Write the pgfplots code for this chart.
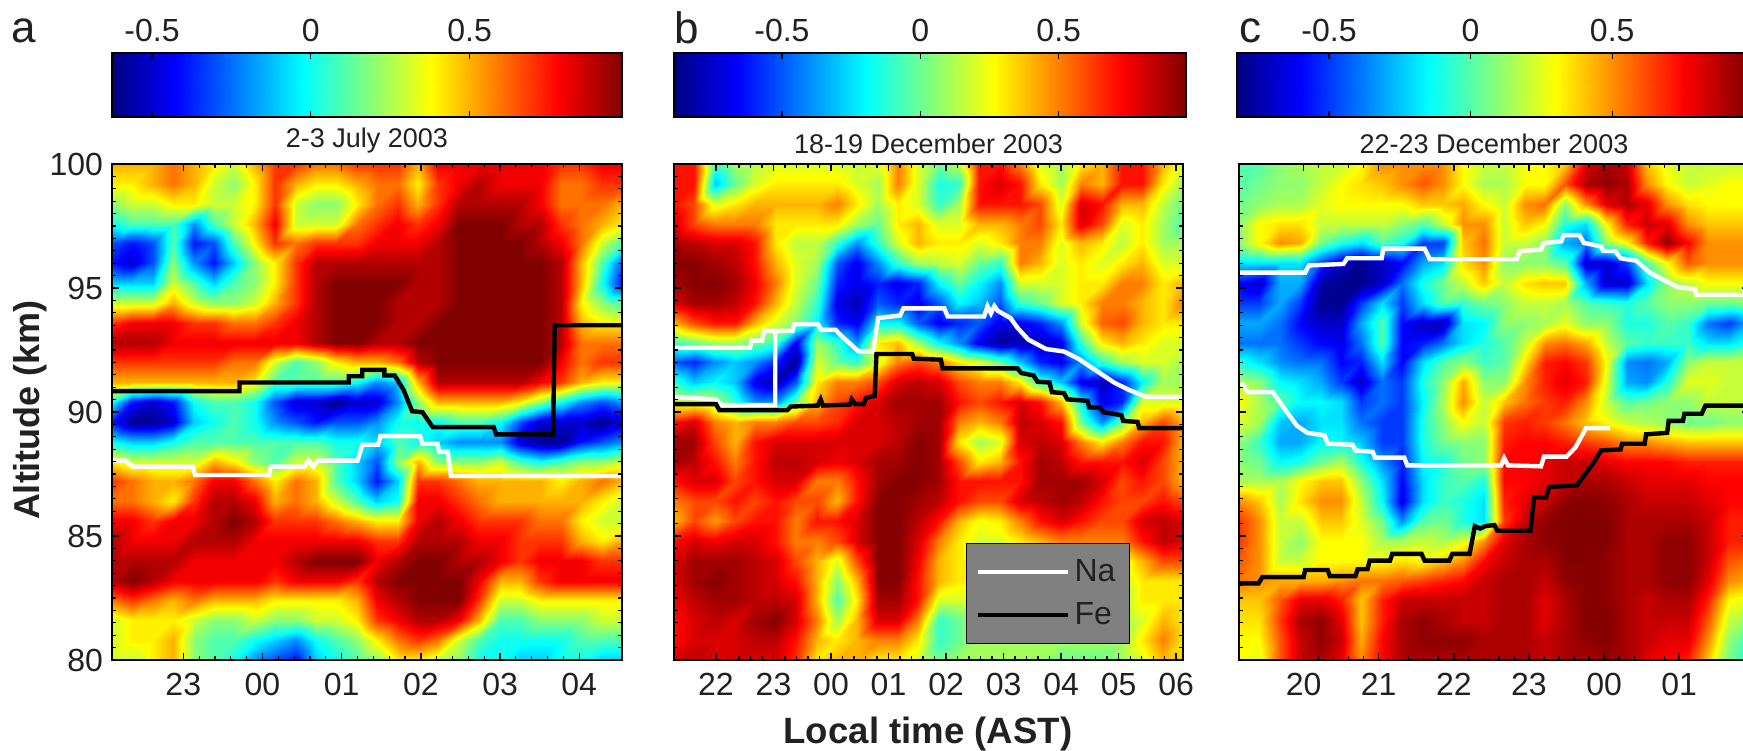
\documentclass[border=0pt]{standalone}
\usepackage{fontspec}
\setmainfont{Liberation Sans}
\usepackage{pgfplots}
\pgfplotsset{compat=1.18}
\usepackage{pgfplotstable}
\pgfplotsset{colormap={myjet}{rgb255(0cm)=(0,0,128); rgb255(1cm)=(0,0,255); rgb255(3cm)=(0,255,255); rgb255(5cm)=(255,255,0); rgb255(7cm)=(255,0,0); rgb255(8cm)=(128,0,0)}}
\pgfplotstableread[row sep=\\]{z\\
.5\\.5\\.5\\.6\\.5\\.4\\.3\\.5\\.7\\.7\\.6\\.6\\.7\\.7\\.7\\.5\\.8\\.8\\.8\\.8\\.8\\.8\\.7\\.7\\.8\\.8\\
.4\\.4\\.5\\.6\\.5\\.3\\.2\\.4\\.7\\.5\\.4\\.4\\.5\\.6\\.6\\.4\\.7\\.8\\.9\\.8\\.8\\.8\\.6\\.6\\.7\\.7\\
.2\\.3\\.3\\.4\\.4\\.3\\.3\\.4\\.7\\.3\\.2\\.2\\.4\\.6\\.7\\.5\\.7\\.9\\.9\\.9\\.9\\.8\\.6\\.6\\.6\\.5\\
0\\.1\\.1\\.1\\-.2\\.1\\.3\\.5\\.8\\.3\\.3\\.3\\.6\\.7\\.8\\.7\\.8\\1\\1\\1\\.9\\.9\\.7\\.6\\.5\\.4\\
-.3\\-.4\\-.3\\.1\\-.4\\-.3\\.1\\.4\\.7\\.6\\.7\\.7\\.7\\.8\\.8\\.8\\.9\\1\\1\\1\\1\\.9\\.8\\.6\\.3\\.1\\
-.4\\-.5\\-.3\\.2\\-.2\\-.4\\-.1\\.2\\.4\\.7\\.9\\.9\\.9\\.9\\.9\\.9\\.9\\1\\1\\1\\1\\1\\.9\\.5\\.1\\-.3\\
-.1\\-.1\\-.1\\.3\\.1\\-.1\\.1\\.2\\.4\\.7\\.9\\1\\1\\1\\1\\.9\\.9\\1\\1\\1\\1\\1\\.9\\.5\\0\\-.4\\
.3\\.3\\.3\\.5\\.3\\.2\\.2\\.3\\.5\\.7\\.9\\1\\1\\1\\.9\\.9\\.9\\1\\1\\1\\1\\1\\.9\\.4\\.2\\.1\\
.7\\.8\\.8\\.8\\.7\\.7\\.6\\.6\\.7\\.8\\.9\\1\\1\\1\\.9\\.9\\1\\1\\1\\1\\1\\1\\.9\\.5\\.4\\.4\\
.9\\.9\\.9\\.8\\.8\\.8\\.8\\.8\\.8\\.8\\.9\\1\\1\\.9\\.9\\1\\1\\1\\1\\1\\1\\1\\.9\\.6\\.6\\.6\\
.7\\.7\\.7\\.7\\.7\\.7\\.6\\.6\\.3\\.1\\.2\\.4\\.5\\.5\\.6\\.9\\1\\1\\1\\1\\1\\1\\.8\\.6\\.7\\.7\\
.5\\.5\\.5\\.5\\.5\\.5\\.5\\.4\\.1\\.1\\.1\\.1\\0\\-.2\\-.1\\.5\\.9\\.9\\.9\\.9\\.9\\.8\\.7\\.5\\.4\\.4\\
0\\-.4\\-.5\\-.4\\0\\.1\\.1\\0\\-.3\\-.5\\-.5\\-.6\\-.5\\-.5\\-.2\\.2\\.5\\.5\\.5\\.5\\.4\\.2\\0\\-.2\\-.3\\-.2\\
-.4\\-.6\\-.6\\-.5\\-.1\\0\\.1\\0\\-.2\\-.3\\-.4\\-.3\\-.3\\-.2\\0\\0\\0\\.1\\.1\\0\\-.3\\-.5\\-.5\\-.5\\-.6\\-.5\\
0\\-.1\\-.1\\0\\.1\\.1\\.1\\.1\\.1\\.1\\.1\\0\\0\\-.1\\.1\\0\\-.1\\-.2\\-.2\\-.2\\-.5\\-.6\\-.6\\-.4\\-.3\\-.2\\
.4\\.3\\.3\\.3\\.3\\.5\\.4\\.2\\.1\\.3\\.3\\.1\\-.1\\-.3\\.2\\.5\\.2\\.2\\.2\\.3\\.1\\0\\.1\\.2\\.2\\.3\\
.7\\.6\\.5\\.5\\.6\\.8\\.8\\.6\\.4\\.6\\.5\\.1\\-.1\\-.4\\-.1\\.7\\.7\\.6\\.5\\.5\\.5\\.5\\.4\\.5\\.6\\.5\\
.6\\.6\\.5\\.4\\.7\\.9\\.9\\.8\\.5\\.6\\.5\\.3\\.1\\-.1\\0\\.8\\.8\\.7\\.6\\.5\\.5\\.5\\.5\\.5\\.4\\.3\\
.8\\.8\\.7\\.8\\.8\\.9\\1\\.9\\.7\\.7\\.7\\.6\\.5\\.4\\.4\\.8\\.9\\.8\\.7\\.7\\.7\\.6\\.6\\.4\\.3\\.3\\
.9\\.8\\.8\\.8\\.9\\.9\\.9\\.8\\.8\\.8\\.8\\.8\\.8\\.7\\.7\\.9\\.9\\.9\\.8\\.8\\.7\\.7\\.7\\.5\\.4\\.5\\
.9\\.9\\.9\\.9\\.8\\.8\\.8\\.8\\.8\\.9\\1\\1\\1\\.8\\.9\\1\\1\\.9\\.9\\.8\\.7\\.8\\.8\\.8\\.7\\.7\\
.9\\1\\.9\\.8\\.8\\.8\\.8\\.8\\.7\\.8\\.8\\.8\\.7\\.9\\1\\1\\1\\1\\.8\\.5\\.5\\.7\\.8\\.8\\.8\\.8\\
.6\\.7\\.6\\.5\\.6\\.5\\.5\\.5\\.4\\.4\\.4\\.4\\.5\\.8\\.9\\1\\1\\1\\.7\\.3\\.3\\.4\\.4\\.4\\.4\\.4\\
.3\\.4\\.4\\.4\\.3\\.2\\.2\\.3\\.2\\.2\\.3\\.3\\.4\\.7\\.8\\.9\\.9\\.8\\.5\\.1\\.1\\.2\\.2\\.2\\.3\\.3\\
.3\\.4\\.4\\.5\\.2\\.1\\.1\\0\\-.1\\-.2\\0\\.1\\.2\\.4\\.6\\.7\\.6\\.3\\.1\\0\\0\\0\\0\\.1\\.1\\.1\\
.3\\.3\\.4\\.5\\.2\\.1\\0\\-.2\\-.3\\-.4\\-.1\\0\\.1\\.2\\.4\\.4\\.3\\.2\\0\\0\\-.1\\-.1\\0\\0\\-.1\\-.1\\
}\dataA
\pgfplotstableread[row sep=\\]{z\\
.7\\.7\\-.1\\.1\\.15\\.2\\.2\\.2\\.2\\.15\\.2\\.5\\.2\\0\\.15\\.7\\.7\\.5\\.2\\.1\\.3\\.4\\.7\\.7\\.4\\.2\\
.7\\.7\\-.3\\0\\.2\\.3\\.3\\.3\\.3\\.2\\.1\\.5\\.2\\-.15\\-.1\\.7\\.8\\.7\\.3\\.1\\.5\\.4\\.7\\.7\\.3\\.1\\
.7\\.6\\.2\\.3\\.4\\.4\\.4\\.4\\.5\\.3\\.1\\.3\\.2\\-.1\\.1\\.7\\.7\\.7\\.6\\.2\\.8\\.7\\.4\\.4\\.15\\0\\
.8\\.6\\.5\\.5\\.5\\.3\\.3\\.3\\.3\\.1\\0\\.3\\.4\\.2\\.2\\.4\\.4\\.5\\.6\\.3\\.8\\.6\\.2\\.3\\.1\\-.05\\
.9\\.85\\.8\\.8\\.7\\.3\\.15\\.15\\-.1\\-.4\\-.1\\.2\\.4\\.3\\.3\\.2\\.3\\.5\\.5\\.2\\.4\\.3\\.15\\.3\\.1\\.1\\
.95\\.95\\.9\\.85\\.7\\.4\\.2\\.1\\-.5\\-.7\\-.4\\-.1\\.1\\.15\\.2\\0\\-.1\\.5\\.4\\.2\\.3\\.2\\.3\\.4\\.2\\.2\\
.9\\.95\\.95\\.9\\.75\\.5\\.2\\0\\-.6\\-.7\\-.6\\-.7\\-.6\\-.2\\0\\-.2\\-.4\\.2\\.2\\.2\\.3\\.3\\.5\\.5\\.3\\.4\\
.8\\.9\\.9\\.85\\.7\\.4\\.15\\-.1\\-.7\\-.8\\-.5\\-.6\\-.7\\-.5\\-.2\\-.3\\-.5\\-.1\\0\\.2\\.3\\.5\\.5\\.4\\.3\\.5\\
.4\\.6\\.7\\.7\\.4\\.2\\.05\\-.2\\-.6\\-.7\\-.2\\-.2\\-.5\\-.7\\-.6\\-.5\\-.7\\-.7\\-.6\\-.4\\.2\\.55\\.6\\.4\\.3\\.3\\
-.1\\0\\.1\\.1\\0\\-.1\\-.7\\.1\\-.1\\-.4\\.3\\.4\\.1\\-.2\\-.4\\-.7\\-.85\\-.8\\-.8\\-.7\\-.1\\.3\\.4\\.3\\.2\\.2\\
-.5\\-.6\\-.4\\-.3\\-.4\\-.6\\-.85\\.2\\0\\-.1\\.2\\.5\\.6\\.5\\.3\\.2\\0\\-.3\\-.6\\-.7\\-.4\\-.1\\.1\\.2\\.2\\.1\\
-.1\\-.3\\-.2\\-.3\\-.7\\-.8\\-.5\\.3\\.5\\.5\\.6\\.8\\.85\\.8\\.6\\.5\\.5\\.3\\-.1\\-.3\\-.7\\-.8\\-.6\\-.2\\.1\\.1\\
.2\\.2\\.1\\-.1\\-.4\\-.4\\0\\.4\\.6\\.7\\.8\\.9\\.9\\.9\\.7\\.6\\.7\\.8\\.7\\.4\\-.2\\-.7\\-.6\\.2\\.2\\.2\\
.7\\.8\\.5\\.4\\.5\\.5\\.6\\.6\\.65\\.8\\.8\\.85\\.9\\.9\\.5\\.4\\.5\\.85\\.8\\.7\\0\\-.4\\0\\.4\\.6\\.4\\
.9\\.9\\.6\\.4\\.7\\.8\\.8\\.8\\.8\\.8\\.8\\.85\\.95\\.9\\.3\\.1\\.2\\.8\\.85\\.8\\.5\\.3\\.5\\.7\\.7\\.4\\
.9\\.85\\.7\\.5\\.7\\.85\\.85\\.8\\.75\\.8\\.9\\.9\\.95\\.9\\.6\\.3\\.4\\.7\\.9\\.85\\.7\\.7\\.7\\.8\\.6\\.4\\
.7\\.8\\.8\\.6\\.7\\.8\\.8\\.5\\.5\\.7\\.9\\.95\\.95\\.9\\.7\\.7\\.7\\.7\\.9\\.9\\.9\\.8\\.6\\.7\\.6\\.4\\
.5\\.6\\.6\\.7\\.6\\.7\\.6\\.6\\.4\\.7\\.95\\.95\\.9\\.85\\.7\\.6\\.6\\.8\\.85\\.9\\.85\\.7\\.6\\.6\\.7\\.6\\
.4\\.6\\.45\\.6\\.7\\.7\\.5\\.7\\.7\\.8\\.95\\.95\\.85\\.7\\.4\\.25\\.3\\.5\\.7\\.8\\.7\\.6\\.6\\.8\\.85\\.8\\
.7\\.8\\.75\\.8\\.8\\.7\\.5\\.5\\.6\\.8\\.95\\.95\\.8\\.5\\.3\\.2\\.2\\.3\\.4\\.5\\.5\\.5\\.5\\.7\\.85\\.8\\
.8\\.9\\.9\\.9\\.85\\.8\\.6\\.4\\.2\\.6\\.95\\.95\\.75\\.4\\.3\\.3\\.3\\.3\\.3\\.3\\.3\\.3\\.2\\.4\\.6\\.6\\
.8\\.9\\.95\\.9\\.85\\.8\\.7\\.4\\.05\\.4\\.95\\.95\\.7\\.4\\.3\\.3\\.3\\.3\\.3\\.3\\.3\\.3\\.15\\.3\\.3\\.3\\
.75\\.85\\.9\\.9\\.85\\.85\\.8\\.4\\-.05\\.3\\.9\\.9\\.7\\.2\\.2\\.2\\.2\\.2\\.2\\.2\\.2\\.2\\.1\\.3\\.3\\.3\\
.7\\.8\\.85\\.8\\.9\\.95\\.8\\.5\\.1\\.4\\.8\\.8\\.5\\-.1\\0\\.1\\.1\\.1\\.1\\.1\\.1\\.1\\.1\\.2\\.4\\.3\\
.7\\.8\\.8\\.8\\.85\\.85\\.7\\.4\\.3\\.4\\.5\\.5\\.3\\-.1\\0\\.1\\.1\\.1\\.1\\.1\\.1\\.1\\.1\\.3\\.5\\.3\\
.8\\.85\\.8\\.8\\.8\\.8\\.65\\.3\\.4\\.4\\.3\\.3\\.2\\0\\.1\\.1\\.1\\.1\\.1\\0\\0\\0\\.1\\.2\\.4\\.35\\
}\dataB
\pgfplotstableread[row sep=\\]{z\\
0\\0\\.1\\.15\\.2\\.2\\.3\\.5\\.5\\.5\\.5\\.3\\.2\\.2\\.3\\.3\\.4\\.8\\.9\\.85\\.4\\.25\\.2\\.2\\.2\\.2\\
0\\.05\\.1\\.1\\.2\\.3\\.35\\.4\\.5\\.6\\.5\\.3\\.15\\.15\\.3\\.3\\.6\\.9\\.95\\.9\\.5\\.3\\.2\\.25\\.3\\.3\\
.05\\.1\\.15\\.15\\.25\\.3\\.3\\.3\\.3\\.4\\.4\\.45\\.3\\.2\\.5\\.55\\.1\\.5\\.8\\.9\\.8\\.5\\.35\\.3\\.3\\.3\\
.1\\.3\\.35\\.35\\.2\\.2\\.2\\.2\\.1\\0\\.2\\.5\\.5\\.2\\.4\\.3\\-.1\\-.2\\.3\\.7\\.85\\.8\\.5\\.4\\.4\\.4\\
.1\\.3\\.5\\.45\\.05\\-.1\\-.2\\0\\-.1\\-.5\\-.5\\.4\\.55\\.2\\.2\\.1\\-.3\\-.4\\.1\\.3\\.7\\.95\\.75\\.5\\.5\\.5\\
-.2\\-.2\\-.2\\-.2\\-.5\\-.7\\-.8\\-.7\\-.6\\-.3\\-.2\\.35\\.5\\.1\\.1\\.1\\0\\-.7\\-.7\\-.5\\0\\.3\\.6\\.5\\.5\\.5\\
-.6\\-.7\\-.3\\-.3\\-.75\\-.8\\-.8\\-.7\\-.4\\-.1\\.05\\.2\\.4\\.2\\.35\\.4\\.4\\-.3\\-.7\\-.7\\-.2\\.1\\.2\\.3\\.3\\.3\\
-.5\\-.5\\-.3\\-.5\\-.8\\-.8\\-.5\\-.2\\-.5\\-.2\\0\\-.05\\.05\\.1\\.2\\.2\\.15\\0\\-.05\\-.1\\0\\.1\\.1\\.05\\.05\\.1\\
-.3\\-.3\\-.4\\-.6\\-.7\\-.7\\-.3\\0\\-.6\\-.7\\-.75\\-.2\\-.15\\.1\\.1\\.15\\.25\\.1\\.1\\-.1\\-.1\\0\\-.05\\-.4\\-.5\\-.3\\
-.4\\-.4\\-.4\\-.5\\-.6\\-.65\\-.4\\0\\-.6\\-.55\\-.4\\-.2\\-.1\\0\\.2\\.5\\.55\\.45\\.2\\0\\-.05\\-.05\\-.05\\-.2\\-.2\\-.1\\
-.1\\-.2\\-.35\\-.4\\-.4\\-.6\\-.55\\-.2\\-.6\\-.2\\0\\.1\\-.05\\0\\.35\\.7\\.75\\.65\\.3\\-.35\\-.4\\-.3\\.1\\.2\\.2\\.2\\
.15\\.1\\-.15\\-.2\\-.3\\-.5\\-.7\\-.4\\-.5\\-.1\\.1\\.45\\.1\\.1\\.5\\.7\\.8\\.7\\.25\\-.3\\-.35\\-.1\\.25\\.25\\.2\\.2\\
.3\\.15\\0\\-.15\\-.15\\-.2\\-.5\\-.4\\-.5\\-.15\\.15\\.5\\.2\\.4\\.55\\.65\\.7\\.5\\.2\\0\\.05\\.1\\.1\\.2\\.2\\.2\\
.25\\.15\\-.25\\-.3\\-.2\\-.2\\-.4\\-.5\\-.5\\-.1\\.1\\.3\\.2\\.65\\.7\\.65\\.55\\.4\\.3\\.2\\.15\\.1\\.05\\.05\\.1\\.1\\
.1\\-.05\\-.3\\-.3\\-.15\\-.15\\-.25\\-.5\\-.5\\-.1\\.05\\.1\\.1\\.7\\.75\\.75\\.7\\.65\\.6\\.5\\.5\\.45\\.4\\.4\\.4\\.4\\
.1\\.05\\-.15\\-.1\\.05\\.15\\-.1\\-.35\\-.55\\-.15\\-.1\\.05\\.1\\.75\\.75\\.8\\.85\\.85\\.8\\.75\\.75\\.75\\.7\\.7\\.7\\.7\\
.15\\.15\\.15\\.3\\.4\\.4\\.1\\-.2\\-.6\\-.2\\-.05\\0\\-.1\\.75\\.75\\.8\\.85\\.9\\.9\\.85\\.8\\.8\\.8\\.75\\.75\\.75\\
.5\\.4\\.15\\.35\\.5\\.5\\.2\\-.15\\-.65\\-.2\\-.05\\-.1\\-.2\\.7\\.8\\.85\\.95\\.97\\.95\\.9\\.85\\.85\\.85\\.8\\.75\\.75\\
.65\\.5\\.2\\.2\\.4\\.4\\.25\\.05\\-.35\\0\\.05\\-.1\\-.2\\.65\\.85\\.95\\.97\\.97\\.97\\.9\\.9\\.9\\.9\\.85\\.7\\.7\\
.65\\.5\\.2\\.1\\.3\\.3\\.3\\.15\\.15\\.2\\.15\\.25\\.5\\.8\\.9\\.95\\.97\\.97\\.97\\.9\\.9\\.95\\.95\\.85\\.7\\.7\\
.6\\.5\\.2\\.2\\.3\\.3\\.3\\.3\\.35\\.3\\.4\\.5\\.75\\.85\\.9\\.9\\.97\\.97\\.95\\.9\\.9\\.95\\.95\\.85\\.6\\.55\\
.55\\.5\\.45\\.45\\.45\\.5\\.55\\.55\\.6\\.65\\.7\\.75\\.85\\.9\\.9\\.85\\.95\\.97\\.95\\.9\\.9\\.95\\.95\\.8\\.5\\.45\\
.4\\.4\\.6\\.8\\.8\\.7\\.4\\.7\\.85\\.85\\.85\\.85\\.85\\.9\\.9\\.8\\.9\\.97\\.95\\.9\\.85\\.9\\.9\\.7\\.3\\.25\\
.35\\.35\\.65\\.9\\.95\\.8\\.4\\.7\\.9\\.95\\.9\\.85\\.85\\.9\\.9\\.8\\.9\\.97\\.97\\.9\\.85\\.85\\.85\\.6\\.2\\.1\\
.3\\.3\\.6\\.85\\.95\\.85\\.45\\.75\\.9\\.95\\.95\\.95\\.9\\.9\\.9\\.85\\.9\\.95\\.97\\.9\\.85\\.8\\.8\\.5\\.1\\-.05\\
.3\\.25\\.6\\.85\\.9\\.8\\.5\\.75\\.9\\.9\\.9\\.9\\.9\\.9\\.9\\.85\\.9\\.9\\.95\\.9\\.8\\.75\\.7\\.4\\.05\\-.1\\
}\dataC
\definecolor{ink}{gray}{0.13}
\pgfplotsset{
  panel/.style={scale only axis, height=248pt, axis on top, anchor=south west,
    ymin=80, ymax=100, ytick={80,85,90,95,100}, minor y tick num=9,
    minor x tick num=4, tick align=inside, xtick pos=both, ytick pos=both,
    major tick length=3.5pt, minor tick length=2pt,
    every tick/.style={black, line width=0.7pt}, minor tick style={black, line width=0.6pt},
    axis line style={black, line width=0.8pt}, colormap name=myjet,
    tick label style={font=\fontsize{16}{18}\selectfont, text=ink},
    /pgf/number format/assume math mode=true,
    xticklabel pos=bottom, yticklabel pos=left,
    xticklabel style={yshift=-3pt}, yticklabel style={xshift=-1pt},
    title style={font=\fontsize{13.5}{15}\selectfont, text=ink, yshift=-4.2pt},
  },
  cbar/.style={scale only axis, height=32pt, axis on top, anchor=south west,
    ymin=0, ymax=1, ytick=\empty, xtick={-0.5,0,0.5}, xticklabels={-0.5,0,0.5},
    xtick pos=both, xticklabel pos=top, tick align=inside, major tick length=3pt,
    every tick/.style={black, line width=0.6pt}, axis line style={black, line width=0.8pt},
    colormap name=myjet,
    tick label style={font=\fontsize{16}{18}\selectfont, text=ink},
    /pgf/number format/assume math mode=true,
    xticklabel style={yshift=2pt},
  },
  nafe/.style={line width=2.2pt, white, line join=miter},
  fe/.style={line width=2.2pt, black, line join=miter},
}
\begin{document}
\begin{tikzpicture}
\clip[use as bounding box] (0,0) rectangle (871.5pt,375pt);
% colour bars
\begin{axis}[cbar, at={(56pt,316.5pt)}, width=255pt, xmin=-0.626, xmax=0.98]
\addplot[surf, shader=interp, mesh/cols=2, point meta=explicit] table[x=x, y=y, meta=x] {
x y
-0.626 0
0.98 0
-0.626 1
0.98 1
};
\end{axis}
\begin{axis}[cbar, at={(337pt,316.5pt)}, width=256pt, xmin=-0.89, xmax=0.96]
\addplot[surf, shader=interp, mesh/cols=2, point meta=explicit] table[x=x, y=y, meta=x] {
x y
-0.89 0
0.96 0
-0.89 1
0.96 1
};
\end{axis}
\begin{axis}[cbar, at={(618.5pt,316.5pt)}, width=255pt, xmin=-0.825, xmax=0.976]
\addplot[surf, shader=interp, mesh/cols=2, point meta=explicit] table[x=x, y=y, meta=x] {
x y
-0.825 0
0.976 0
-0.825 1
0.976 1
};
\end{axis}
% panel a
\begin{axis}[panel, at={(56pt,45pt)}, width=255pt, xmin=22.1, xmax=28.54,
  point meta min=-0.626, point meta max=0.98,
  xtick={23,24,25,26,27,28}, xticklabels={23,00,01,02,03,04},
  title={2-3 July 2003}]
\addplot[surf, shader=interp, mesh/cols=26, point meta=explicit] table[x index=0, y index=0,
  x expr={22.1+0.2576*(\coordindex-26*floor((\coordindex+0.5)/26))},
  y expr={100-0.8*floor((\coordindex+0.5)/26)}, meta=z] {\dataA};
\addplot[fe] coordinates {(22.1,90.84)(23.71,90.84)(23.71,91.19)(25.09,91.19)(25.09,91.44)(25.26,91.44)(25.26,91.7)(25.54,91.7)(25.54,91.47)(25.67,91.47)(25.78,90.9)(25.89,90.03)(26.02,89.99)(26.15,89.39)(26.92,89.39)(26.95,89.1)(27.67,89.1)(27.69,93.5)(28.54,93.5)};
\addplot[nafe] coordinates {(22.1,88.04)(22.27,88.04)(22.36,87.8)(23.12,87.8)(23.15,87.46)(24.08,87.46)(24.11,87.8)(24.53,87.8)(24.58,88.06)(24.64,87.8)(24.7,88.04)(25.2,88.04)(25.26,88.68)(25.46,88.68)(25.49,89.03)(25.99,89.03)(26.02,88.72)(26.21,88.72)(26.23,88.39)(26.34,88.39)(26.38,87.42)(28.54,87.42)};
\end{axis}
% panel b
\begin{axis}[panel, at={(337pt,45pt)}, width=254.5pt, xmin=21.27, xmax=30.12,
  point meta min=-0.89, point meta max=0.96,
  xtick={22,23,24,25,26,27,28,29,30}, xticklabels={22,23,00,01,02,03,04,05,06},
  yticklabels={}, title={18-19 December 2003},
  legend style={at={(0.896,0.032)}, anchor=south east, fill=gray, draw=black, line width=0.6pt,
    font=\fontsize{16}{18}\selectfont, text=ink, cells={anchor=west}, row sep=5pt, inner xsep=5pt, inner ysep=6pt},
  legend image code/.code={\draw[#1] (0pt,0pt)--(45pt,0pt);}]
\addplot[surf, shader=interp, mesh/cols=26, point meta=explicit, forget plot] table[x index=0, y index=0,
  x expr={21.27+0.354*(\coordindex-26*floor((\coordindex+0.5)/26))},
  y expr={100-0.8*floor((\coordindex+0.5)/26)}, meta=z] {\dataB};
\addplot[nafe, forget plot] coordinates {(21.27,92.59)(22.59,92.59)(22.62,92.88)(22.8,92.88)(22.84,93.27)(23.03,93.27)};
\addplot[nafe] coordinates {(21.27,90.61)(22,90.51)(22.09,90.28)(23.03,90.28)(23.03,93.27)(23.33,93.27)(23.36,93.54)(23.77,93.54)(23.83,93.31)(24.08,93.31)(24.2,93.02)(24.39,92.63)(24.48,92.44)(24.73,92.44)(24.82,93.79)(25.2,93.89)(25.26,94.18)(25.97,94.18)(26.03,93.85)(26.66,93.85)(26.72,94.27)(26.78,93.98)(26.84,94.27)(26.9,94.08)(27.12,93.79)(27.24,93.4)(27.43,92.92)(27.74,92.54)(28.05,92.44)(28.3,92.15)(28.61,91.67)(28.92,91.19)(29.17,90.9)(29.48,90.61)(30.12,90.61)};
\addlegendentry{Na}
\addplot[fe] coordinates {(21.27,90.32)(22,90.32)(22.06,90.07)(23.24,90.07)(23.3,90.22)(23.77,90.26)(23.82,90.51)(23.86,90.26)(24.33,90.3)(24.36,90.51)(24.42,90.32)(24.57,90.32)(24.61,90.57)(24.76,90.65)(24.79,92.34)(25.41,92.34)(25.44,92.15)(25.91,92.11)(25.94,91.76)(27.24,91.76)(27.31,91.57)(27.52,91.48)(27.59,91.22)(27.8,91.19)(27.84,90.8)(28.05,90.76)(28.11,90.51)(28.46,90.45)(28.49,90.18)(28.67,90.18)(28.74,89.99)(29.05,89.87)(29.08,89.64)(29.33,89.6)(29.36,89.35)(30.12,89.35)};
\addlegendentry{Fe}
\end{axis}
% panel c
\begin{axis}[panel, at={(619.5pt,45pt)}, width=255pt, xmin=19.14, xmax=25.93,
  point meta min=-0.825, point meta max=0.976,
  xtick={20,21,22,23,24,25}, xticklabels={20,21,22,23,00,01},
  yticklabels={}, title={22-23 December 2003}]
\addplot[surf, shader=interp, mesh/cols=26, point meta=explicit] table[x index=0, y index=0,
  x expr={19.14+0.2716*(\coordindex-26*floor((\coordindex+0.5)/26))},
  y expr={100-0.8*floor((\coordindex+0.5)/26)}, meta=z] {\dataC};
\addplot[nafe] coordinates {(19.14,95.62)(20.02,95.62)(20.07,95.91)(20.53,95.97)(20.58,96.2)(21.04,96.2)(21.06,96.59)(21.61,96.59)(21.68,96.16)(22.84,96.16)(22.88,96.49)(23.16,96.55)(23.2,96.82)(23.43,96.88)(23.46,97.13)(23.67,97.13)(23.73,96.82)(23.96,96.68)(23.99,96.49)(24.15,96.49)(24.22,96.2)(24.43,96.1)(24.61,95.62)(24.79,95.33)(24.98,95.04)(25.21,94.95)(25.23,94.72)(25.93,94.72)};
\addplot[nafe] coordinates {(19.17,91.19)(19.26,90.8)(19.59,90.8)(19.77,90.03)(19.91,89.45)(20.05,89.16)(20.28,89.06)(20.32,88.72)(20.65,88.68)(20.69,88.45)(20.92,88.39)(20.95,88.16)(21.34,88.16)(21.38,87.85)(22.63,87.85)(22.67,88.14)(22.72,87.85)(23.16,87.81)(23.2,88.2)(23.5,88.2)(23.62,88.58)(23.76,89.35)(24.08,89.35)};
\addplot[fe] coordinates {(19.14,83.09)(19.4,83.09)(19.45,83.34)(20,83.34)(20.02,83.63)(20.32,83.63)(20.35,83.38)(20.69,83.38)(20.72,83.66)(20.85,83.66)(20.88,84.01)(21.15,84.01)(21.18,84.28)(21.57,84.28)(21.61,84.01)(21.94,84.01)(21.98,84.28)(22.21,84.28)(22.28,85.4)(22.35,85.3)(22.42,85.4)(22.54,85.44)(22.58,85.21)(23.02,85.21)(23.07,86.56)(23.23,86.56)(23.27,86.98)(23.64,87.04)(23.87,88)(23.96,88.45)(24.22,88.49)(24.24,88.72)(24.54,88.72)(24.56,89.1)(24.84,89.16)(24.86,89.64)(25.05,89.64)(25.07,89.93)(25.3,89.93)(25.35,90.26)(25.93,90.26)};
\end{axis}
% labels
\node[font=\fontsize{22}{24}\selectfont, text=ink] at (12pt,359.5pt) {a};
\node[font=\fontsize{22}{24}\selectfont, text=ink] at (343.5pt,361pt) {b};
\node[font=\fontsize{22}{24}\selectfont, text=ink] at (625pt,359.5pt) {c};
\node[font=\bfseries\fontsize{18}{20}\selectfont, text=ink, rotate=90] at (15pt,170pt) {Altitude (km)};
\node[font=\bfseries\fontsize{18.3}{20}\selectfont, text=ink] at (464pt,8pt) {Local time (AST)};
\end{tikzpicture}
\end{document}
